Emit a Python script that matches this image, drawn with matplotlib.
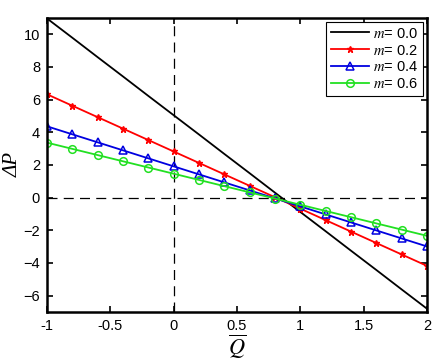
import numpy as np
import matplotlib as mp
mp.use('Agg')
import matplotlib.pyplot as plt

# x = -1 .. 2 step 0.2
q = [-1.0, -0.8, -0.6, -0.4, -0.2, 0.0, 0.2, 0.4, 0.6, 0.8,
     1.0, 1.2, 1.4, 1.6, 1.8, 2.0]
dp_m00 = [10.96, 9.78, 8.59, 7.41, 6.22, 5.04, 3.86, 2.67, 1.49, 0.30,
          -0.88, -2.06, -3.25, -4.43, -5.62, -6.80]
dp_m02 = [6.32, 5.62, 4.92, 4.22, 3.52, 2.82, 2.12, 1.42, 0.72, 0.02,
          -0.68, -1.38, -2.08, -2.78, -3.48, -4.18]
dp_m04 = [4.36, 3.87, 3.38, 2.89, 2.40, 1.91, 1.42, 0.93, 0.44, -0.05,
          -0.54, -1.03, -1.52, -2.01, -2.50, -2.99]
dp_m06 = [3.36, 2.98, 2.60, 2.22, 1.84, 1.46, 1.08, 0.70, 0.32, -0.06,
          -0.44, -0.82, -1.20, -1.58, -1.96, -2.34]

plt.rcParams['font.family'] = ['Liberation Sans', 'DejaVu Sans']
plt.rcParams['mathtext.fontset'] = 'stix'

fig = plt.figure(figsize=(4.48, 3.64), dpi=100)
ax = fig.add_axes([0.105, 0.143, 0.848, 0.808])

ax.axhline(0, color='k', ls=(0, (8, 5)), lw=0.9)
ax.axvline(0, color='k', ls=(0, (8, 5)), lw=0.9)

ax.plot(q, dp_m00, color='k', lw=1.3, label=r'$m$= 0.0')
ax.plot(q, dp_m02, color='#ff0000', lw=1.3, marker='*', ms=5, label=r'$m$= 0.2')
ax.plot(q, dp_m04, color='#0000e0', lw=1.3, marker='^', ms=6, mfc='none',
        mew=1.1, label=r'$m$= 0.4')
ax.plot(q, dp_m06, color='#22e022', lw=1.3, marker='o', ms=5.5, mfc='none',
        mew=1.1, label=r'$m$= 0.6')

ax.set_xlim(-1, 2)
ax.set_ylim(-7, 11)
ax.set_xticks([-1, -0.5, 0, 0.5, 1, 1.5, 2])
ax.set_xticklabels(['-1', '-0.5', '0', '0.5', '1', '1.5', '2'])
ax.set_yticks([-6, -4, -2, 0, 2, 4, 6, 8, 10])
ax.tick_params(direction='in', top=True, right=True, labelsize=10.5, length=4,
               width=1.2, pad=5)
for s in ax.spines.values():
    s.set_linewidth(1.8)

ax.set_xlabel(r'$\overline{Q}$', fontsize=16, labelpad=0)
ax.set_ylabel('ΔP', fontsize=15, family='Liberation Serif', style='italic')
ax.yaxis.set_label_coords(-0.065, 0.5)

leg = ax.legend(loc='upper right', fontsize=10.5, fancybox=False, framealpha=1,
                edgecolor='k', borderaxespad=0.3, handlelength=2.6,
                labelspacing=0.2, borderpad=0.3, handletextpad=0.3)
leg.get_frame().set_linewidth(0.8)

plt.savefig('out.png', dpi=100)
